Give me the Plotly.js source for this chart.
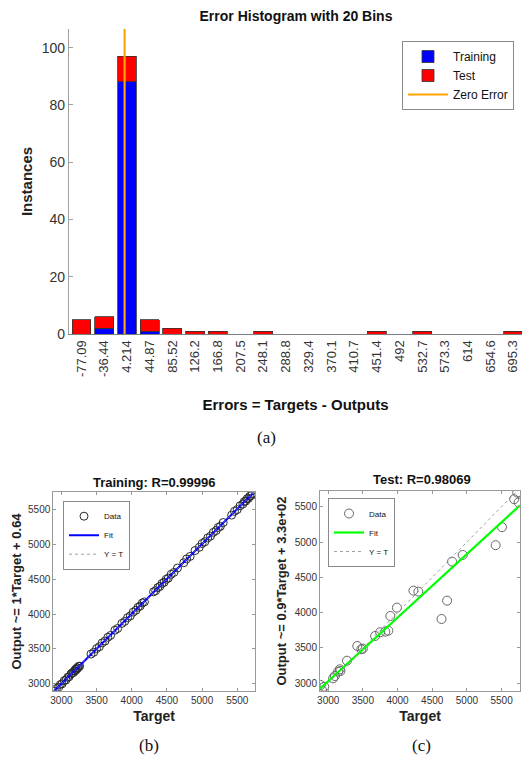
<!DOCTYPE html>
<html>
<head>
<meta charset="utf-8">
<script src="https://cdn.plot.ly/plotly-3.0.1.min.js"></script>
<style>
html,body{margin:0;padding:0;background:#fff;overflow:hidden;}
#chart{width:522px;height:761px;}
</style>
</head>
<body>
<div id="chart"></div>
<script>
// ---- Histogram (a) ----
const binCenters = [-77.09, -36.44, 4.214, 44.87, 85.52, 126.2, 166.8, 207.5, 248.1, 288.8,
                    329.4, 370.1, 410.7, 451.4, 492, 532.7, 573.3, 614, 654.6, 695.3];
const binLabels = ["-77.09","-36.44","4.214","44.87","85.52","126.2","166.8","207.5","248.1","288.8",
                   "329.4","370.1","410.7","451.4","492","532.7","573.3","614","654.6","695.3"];
const trainCounts = [0, 2, 88, 1, 0, 0, 0, 0, 0, 0, 0, 0, 0, 0, 0, 0, 0, 0, 0, 0];
const testCounts  = [5, 4, 9, 4, 2, 1, 1, 0, 1, 0, 0, 0, 0, 1, 0, 1, 0, 0, 0, 1];
const zeroErrX = [0, 0];
const zeroErrY = [0, 106.5];

// ---- Training regression (b) ----
const trainTarget = [2905, 2930, 2960, 2985, 3010, 3040, 3065, 3090, 3110, 3135, 3150, 3170, 3185, 3195,
  3205, 3215, 3225, 3235, 3245, 3260, 3420, 3460, 3500, 3540, 3580, 3620, 3660, 3700, 3760, 3800,
  3860, 3900, 3940, 3980, 4020, 4060, 4090, 4120, 4150, 4180, 4310, 4340, 4370, 4400, 4430, 4460,
  4490, 4520, 4560, 4600, 4650, 4740, 4780, 4830, 4900, 4960, 5000, 5040, 5080, 5120, 5160, 5200,
  5230, 5260, 5300, 5420, 5460, 5500, 5540, 5580, 5600, 5620, 5640, 5660, 5680, 5700, 5715];
const trainOutput = [2898, 2936, 2952, 2991, 3003, 3047, 3058, 3096, 3104, 3142, 3158, 3163, 3192, 3188,
  3213, 3208, 3231, 3229, 3252, 3254, 3427, 3453, 3506, 3533, 3587, 3614, 3667, 3694, 3768, 3793,
  3866, 3894, 3947, 3973, 4027, 4053, 4097, 4114, 4157, 4173, 4317, 4333, 4377, 4394, 4437, 4453,
  4496, 4513, 4567, 4594, 4657, 4733, 4787, 4823, 4907, 4953, 5007, 5033, 5087, 5113, 5167, 5193,
  5237, 5253, 5307, 5413, 5467, 5493, 5547, 5573, 5607, 5613, 5647, 5653, 5687, 5694, 5721];
const trainFitX = [2890, 5720];
const trainFitY = [2890.64, 5720.64];
const trainIdX = [2885, 5752];
const trainIdY = [2885, 5752];

// ---- Test regression (c) ----
const testTarget = [5681, 5725, 5745, 5506, 5414, 4939, 4786, 4229, 4300, 3991, 3896, 4714, 4634,
  3867, 3824, 3749, 3677, 3420, 3500, 3477, 3271, 3167, 3143, 3177, 3071, 3096, 2891, 2943, 2914];
const testOutput = [5606, 5700, 5560, 5210, 4955, 4817, 4723, 4312, 4298, 4071, 3953, 4170, 3910,
  3745, 3731, 3722, 3670, 3528, 3490, 3482, 3320, 3198, 3164, 3174, 3071, 3103, 2976, 2952, 2895];
const testFitX = [2882, 5765];
const testFitY = [2924, 5519];
const testIdX = [2882, 5765];
const testIdY = [2882, 5765];

const FONT = "Liberation Sans, Arial, sans-serif";
const SERIF = "Liberation Serif, Times New Roman, serif";
const W = 522, H = 761;
const px = v => v / W;
const py = v => 1 - v / H;

const traces = [
  {type:'bar', x: binCenters, y: trainCounts, name:'Training', xaxis:'x', yaxis:'y', legend:'legend',
   marker:{color:'#0000ff', line:{color:'#333333', width:0.8}}},
  {type:'bar', x: binCenters, y: testCounts, name:'Test', xaxis:'x', yaxis:'y', legend:'legend',
   marker:{color:'#ff0000', line:{color:'#333333', width:0.8}}},
  {type:'scatter', mode:'lines', x: zeroErrX, y: zeroErrY, name:'Zero Error', xaxis:'x', yaxis:'y', legend:'legend',
   line:{color:'#ffa500', width:2.2}},

  {type:'scatter', mode:'markers', x: trainTarget, y: trainOutput, name:'Data', xaxis:'x2', yaxis:'y2', legend:'legend2',
   marker:{symbol:'circle-open', size:8, color:'#2a2a2a', line:{width:1}}},
  {type:'scatter', mode:'lines', x: trainFitX, y: trainFitY, name:'Fit', xaxis:'x2', yaxis:'y2', legend:'legend2',
   line:{color:'#0000ff', width:2}},
  {type:'scatter', mode:'lines', x: trainIdX, y: trainIdY, name:'Y = T', xaxis:'x2', yaxis:'y2', legend:'legend2',
   line:{color:'#888888', width:0.8, dash:'dot'}},

  {type:'scatter', mode:'markers', x: testTarget, y: testOutput, name:'Data', xaxis:'x3', yaxis:'y3', legend:'legend3',
   marker:{symbol:'circle-open', size:9, color:'#666666', line:{width:1}}},
  {type:'scatter', mode:'lines', x: testFitX, y: testFitY, name:'Fit', xaxis:'x3', yaxis:'y3', legend:'legend3',
   line:{color:'#00ff00', width:2.2}},
  {type:'scatter', mode:'lines', x: testIdX, y: testIdY, name:'Y = T', xaxis:'x3', yaxis:'y3', legend:'legend3',
   line:{color:'#888888', width:0.8, dash:'dot'}}
];

const axColor = '#9a9a9a';
const scatterAxis = (domain, range, anchor) => ({
  domain: domain, range: range, anchor: anchor,
  showline:true, linecolor: axColor, linewidth:1, mirror:'allticks',
  ticks:'inside', ticklen:3, tickcolor: axColor,
  tickvals:[3000,3500,4000,4500,5000,5500],
  showgrid:false, zeroline:false,
  tickfont:{family:FONT, size:10, color:'#333333'}
});

const xa2 = scatterAxis([px(53.3), px(255)], [2885, 5752], 'y2');
xa2.title = {text:'Target', font:{family:FONT, size:14, color:'#222222', weight:'bold'}, standoff:6};
const ya2 = scatterAxis([py(690.7), py(492.3)], [2904, 5739], 'x2');
ya2.title = {text:'Output ~= 1*Target + 0.64', font:{family:FONT, size:13, color:'#222222', weight:'bold'}, standoff:3};
const xa3 = scatterAxis([px(320), px(520)], [2882, 5765], 'y3');
xa3.title = {text:'Target', font:{family:FONT, size:14, color:'#222222', weight:'bold'}, standoff:6};
const ya3 = scatterAxis([py(691), py(491)], [2891, 5722], 'x3');
ya3.title = {text:'Output ~= 0.9*Target + 3.3e+02', font:{family:FONT, size:13, color:'#222222', weight:'bold'}, standoff:5};

const smallLegend = (x, y) => ({x: x, y: y, xanchor:'left', yanchor:'top',
  bgcolor:'#ffffff', bordercolor:'#8a8a8a', borderwidth:1, traceorder:'normal',
  font:{family:FONT, size:8, color:'#111111'}, tracegroupgap:0, itemwidth:30});

const layout = {
  width: W, height: H,
  margin:{l:0, r:0, t:0, b:0},
  paper_bgcolor:'#ffffff', plot_bgcolor:'#ffffff',
  font:{family:FONT, color:'#333333'},
  barmode:'stack', bargap:0.17,
  title:{text:'Error Histogram with 20 Bins', font:{family:FONT, size:14, color:'#111111', weight:'bold'},
         x: px(296), xanchor:'center', y: py(16), yanchor:'middle'},
  xaxis:{domain:[px(69), 1], range:[-99.5, 711], anchor:'y',
         tickvals: binCenters, ticktext: binLabels, tickangle:-90,
         showline:true, linecolor:'#808080', linewidth:1,
         ticks:'', showgrid:false, zeroline:false,
         tickfont:{family:FONT, size:13, color:'#333333'},
         title:{text:'Errors = Targets - Outputs', font:{family:FONT, size:15, color:'#111111', weight:'bold'}, standoff:23}},
  yaxis:{domain:[py(334), py(29)], range:[0, 106.5], anchor:'x',
         tickvals:[0,20,40,60,80,100],
         showline:true, linecolor:'#a0a0a0', linewidth:1.2,
         ticks:'inside', ticklen:4, tickcolor:'#a0a0a0',
         showgrid:false, zeroline:false,
         tickfont:{family:FONT, size:14, color:'#333333'},
         title:{text:'Instances', font:{family:FONT, size:15, color:'#222222', weight:'bold'}, standoff:5}},
  xaxis2: xa2, yaxis2: ya2, xaxis3: xa3, yaxis3: ya3,
  legend:{x: px(402), y: py(41), xanchor:'left', yanchor:'top', traceorder:'normal',
          bgcolor:'#ffffff', bordercolor:'#8a8a8a', borderwidth:1,
          font:{family:FONT, size:12, color:'#111111'}, tracegroupgap:0, itemwidth:40},
  legend2: smallLegend(px(63), py(500.7)),
  legend3: smallLegend(px(328), py(498)),
  annotations:[
    {text:'Training: R=0.99996', xref:'paper', yref:'paper', x: px(154), y: py(482), xanchor:'center', yanchor:'middle',
     showarrow:false, font:{family:FONT, size:13, color:'#111111', weight:'bold'}},
    {text:'Test: R=0.98069', xref:'paper', yref:'paper', x: px(422), y: py(479), xanchor:'center', yanchor:'middle',
     showarrow:false, font:{family:FONT, size:13, color:'#111111', weight:'bold'}},
    {text:'(a)', xref:'paper', yref:'paper', x: px(266), y: py(437), xanchor:'center', yanchor:'middle',
     showarrow:false, font:{family:SERIF, size:17, color:'#111111'}},
    {text:'(b)', xref:'paper', yref:'paper', x: px(149), y: py(745), xanchor:'center', yanchor:'middle',
     showarrow:false, font:{family:SERIF, size:17, color:'#111111'}},
    {text:'(c)', xref:'paper', yref:'paper', x: px(421), y: py(745), xanchor:'center', yanchor:'middle',
     showarrow:false, font:{family:SERIF, size:17, color:'#111111'}}
  ]
};

Plotly.newPlot('chart', traces, layout, {displayModeBar:false, staticPlot:true});
</script>
</body>
</html>
